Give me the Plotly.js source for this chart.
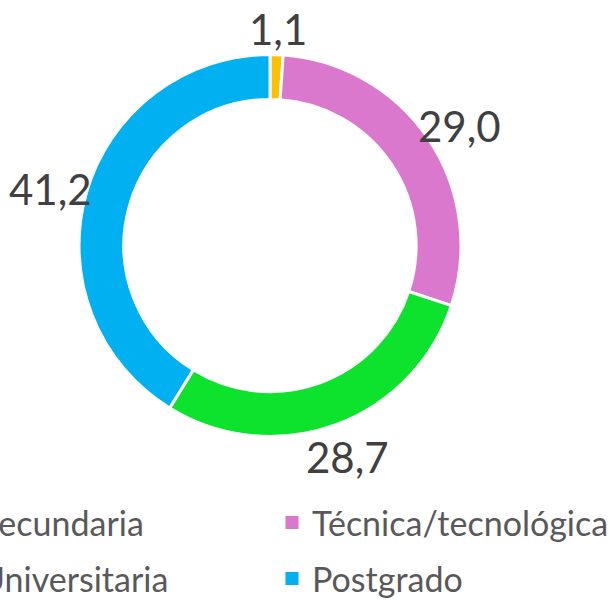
<!DOCTYPE html>
<html>
<head>
<meta charset="utf-8">
<script src="https://cdn.plot.ly/plotly-3.0.1.min.js"></script>
<style>html,body{margin:0;padding:0;background:#fff;}#chart{width:610px;height:601px;}</style>
</head>
<body>
<div id="chart"></div>
<script>
const categories = ["Secundaria", "Técnica/tecnológica", "Universitaria", "Postgrado"];
const values = [1.1, 29.0, 28.7, 41.2];
const valueLabels = ["1,1", "29,0", "28,7", "41,2"];
const colors = ["#FFC000", "#DA78CE", "#0DE22D", "#00B0F0"];

const W = 610, H = 601;
const CX = 270, CY = 245.5, R_OUT = 191;
const LABEL_RX = 228, LABEL_RY = 221, LABEL_DY = 4;
const FONT = "Lato, 'Open Sans', sans-serif";

const trace = {
  type: "pie",
  labels: categories,
  values: values,
  textinfo: "none",
  sort: false,
  direction: "clockwise",
  rotation: 0,
  hole: 0.765,
  marker: {colors: colors, line: {color: "#ffffff", width: 3}},
  hoverinfo: "none",
  domain: {x: [(CX - R_OUT) / W, (CX + R_OUT) / W], y: [(H - CY - R_OUT) / H, (H - CY + R_OUT) / H]}
};

// value labels placed outside each slice at its mid-angle (derived from the values)
const total = values.reduce((a, b) => a + b, 0);
let cum = 0;
const annotations = values.map(function(v, i) {
  const theta = 2 * Math.PI * (cum + v / 2) / total;
  cum += v;
  const px = CX + LABEL_RX * Math.sin(theta);
  const py = CY + LABEL_DY - LABEL_RY * Math.cos(theta);
  return {
    xref: "paper", yref: "paper",
    x: px / W, y: 1 - py / H,
    xanchor: "center", yanchor: "middle",
    text: valueLabels[i], showarrow: false,
    font: {family: FONT, size: 42, color: "#404040"}
  };
});

const layout = {
  width: W, height: H,
  margin: {l: 0, r: 0, t: 0, b: 0, autoexpand: false},
  paper_bgcolor: "#ffffff",
  showlegend: true,
  annotations: annotations,
  legend: {
    orientation: "h",
    x: -60 / W, xanchor: "left",
    y: (H - 494) / H, yanchor: "top",
    font: {family: FONT, size: 34, color: "#595959"},
    bgcolor: "rgba(0,0,0,0)"
  }
};

Plotly.newPlot("chart", [trace], layout, {staticPlot: true, displayModeBar: false}).then(function(gd){
  const sb = gd.querySelector(".legend .scrollbox");
  if (sb) sb.removeAttribute("clip-path");
  const items = Array.from(gd.querySelectorAll(".legend .traces"));
  let x0 = Infinity, y0 = Infinity;
  items.forEach(function(g){
    const m = /translate\(([-\d.]+),\s*([-\d.]+)\)/.exec(g.getAttribute("transform") || "");
    if (m) { x0 = Math.min(x0, parseFloat(m[1])); y0 = Math.min(y0, parseFloat(m[2])); }
  });
  items.forEach(function(g, i){
    const col = i % 2, row = Math.floor(i / 2);
    g.setAttribute("transform", "translate(" + (x0 + col * 332) + "," + (y0 + row * 56) + ")");
    g.querySelectorAll(".legendpoints path").forEach(function(p){
      p.setAttribute("transform", "translate(20,0) scale(1.45)");
    });
  });
});
</script>
</body>
</html>
